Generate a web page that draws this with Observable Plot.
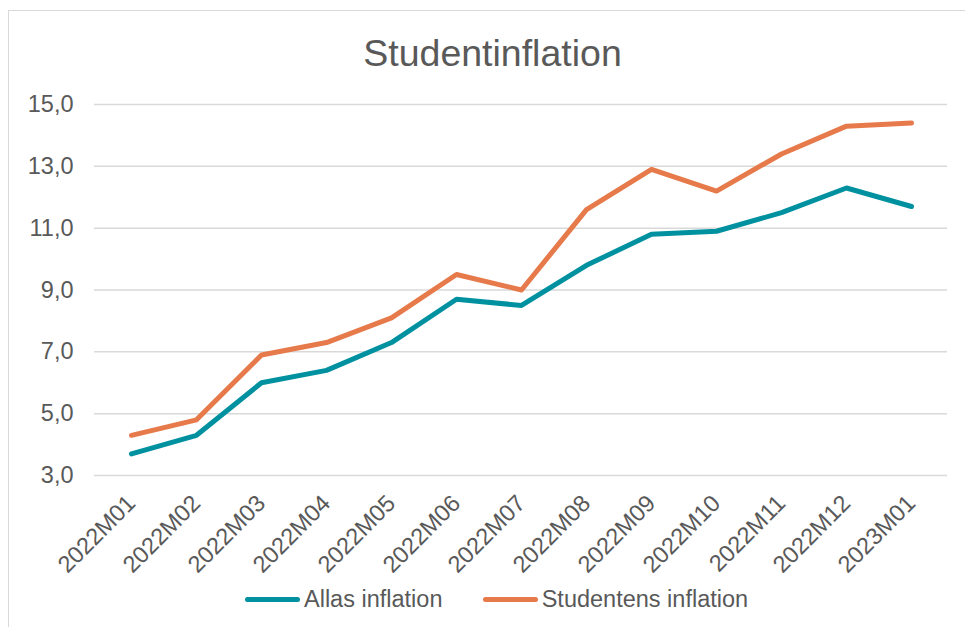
<!DOCTYPE html>
<html>
<head>
<meta charset="utf-8">
<script src="https://cdn.jsdelivr.net/npm/d3@7"></script>
<script src="https://cdn.jsdelivr.net/npm/@observablehq/plot@0.6"></script>
<style>
  html, body { margin: 0; padding: 0; background: #fff; overflow: hidden; }
  #wrap { position: relative; width: 965px; height: 627px; font-family: "Liberation Sans", Arial, sans-serif; color: #595959; }
  #frame { position: absolute; left: 8px; top: 10px; right: -20px; bottom: -20px; border-left: 1.5px solid #d9d9d9; border-top: 1.5px solid #d9d9d9; pointer-events: none; }
  #title { height: 80px; box-sizing: border-box; padding-top: 35px; padding-left: 20px; font-size: 37.5px; line-height: 37.5px; text-align: center; }
  #chart { height: 500px; }
  #chart svg { display: block; }
  #legend { position: relative; height: 47px; font-size: 23.5px; }
  .item { position: absolute; top: 6px; display: flex; align-items: center; line-height: 26px; }
  .sw { display: inline-block; width: 55px; height: 5px; border-radius: 2.5px; margin-right: 4px; }
</style>
</head>
<body>
<div id="wrap">
  <div id="frame"></div>
  <div id="title">Studentinflation</div>
  <div id="chart"></div>
  <div id="legend"></div>
</div>
<script>
const months = ["2022M01","2022M02","2022M03","2022M04","2022M05","2022M06","2022M07","2022M08","2022M09","2022M10","2022M11","2022M12","2023M01"];
const allas = [3.7, 4.3, 6.0, 6.4, 7.3, 8.7, 8.5, 9.8, 10.8, 10.9, 11.5, 12.3, 11.7];
const studentens = [4.3, 4.8, 6.9, 7.3, 8.1, 9.5, 9.0, 11.6, 12.9, 12.2, 13.4, 14.3, 14.4];
const seriesNames = ["Allas inflation", "Studentens inflation"];
const seriesColors = ["#0091A0", "#E67A4A"];
const yTicks = [3, 5, 7, 9, 11, 13, 15];

const rows = [];
months.forEach((m, i) => {
  rows.push({month: m, value: allas[i], series: seriesNames[0]});
});
months.forEach((m, i) => {
  rows.push({month: m, value: studentens[i], series: seriesNames[1]});
});

const fmt = d => d.toFixed(1).replace(".", ",");

const chart = Plot.plot({
  width: 965,
  height: 500,
  marginTop: 24,
  marginBottom: 105,
  marginLeft: 94,
  marginRight: 18,
  style: {fontFamily: "'Liberation Sans', Arial, sans-serif", fontSize: "23.5px", color: "#595959", background: "transparent", overflow: "visible"},
  x: {type: "point", domain: months, padding: 0.5},
  y: {domain: [3, 15]},
  color: {domain: seriesNames, range: seriesColors},
  marks: [
    Plot.ruleY(yTicks, {stroke: "#d9d9d9", strokeWidth: 1.5}),
    Plot.axisY({ticks: yTicks, tickFormat: fmt, tickSize: 0, tickPadding: 21, label: null, fill: "#595959"}),
    Plot.axisX({tickRotate: -45, tickSize: 0, tickPadding: 24, label: null, fill: "#595959"}),
    Plot.line(rows, {x: "month", y: "value", z: "series", stroke: "series", strokeWidth: 5, strokeLinecap: "round", strokeLinejoin: "round"})
  ]
});
document.getElementById("chart").appendChild(chart);

const legend = document.getElementById("legend");
const lefts = [245, 482.7];
seriesNames.forEach((name, i) => {
  const item = document.createElement("div");
  item.className = "item";
  item.style.left = lefts[i] + "px";
  const sw = document.createElement("span");
  sw.className = "sw";
  sw.style.background = seriesColors[i];
  const t = document.createElement("span");
  t.textContent = name;
  item.appendChild(sw);
  item.appendChild(t);
  legend.appendChild(item);
});
</script>
</body>
</html>
